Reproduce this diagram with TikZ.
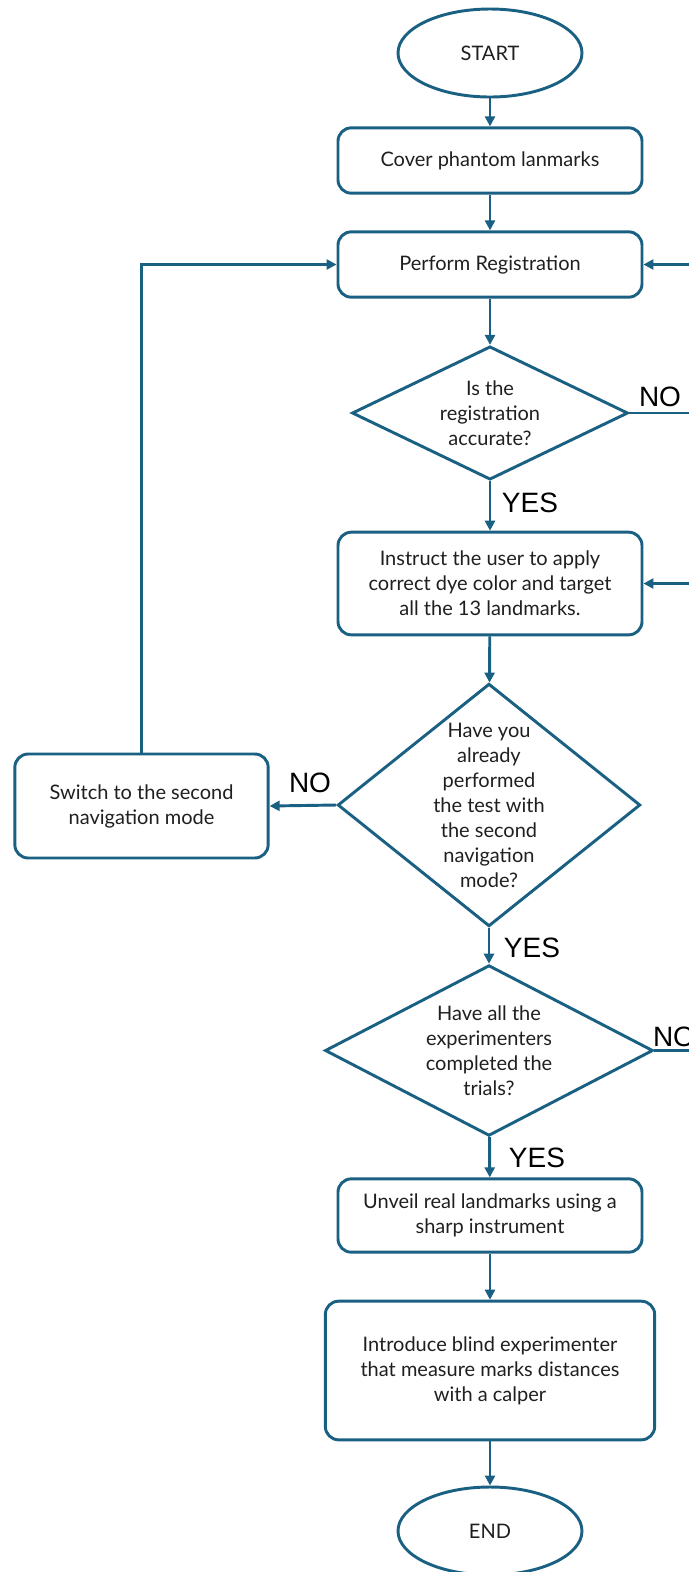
\documentclass[tikz,border=0pt]{standalone}
\usepackage{fontspec}
\setmainfont{Lato}
\newfontfamily\answerfont{Liberation Sans}
\usepackage{tikz}
\usetikzlibrary{shapes,arrows.meta,positioning,calc}
\definecolor{flowblue}{RGB}{26,96,130}

\begin{document}
\begin{tikzpicture}[x=0.75pt,y=-0.75pt,
    every node/.style={font=\fontsize{15}{18.75}\selectfont,align=center,text=black!88},
    process/.style={draw=flowblue,line width=2.2pt,rounded corners=10pt,minimum width=228pt},
    terminal/.style={ellipse,draw=flowblue,line width=2.2pt,minimum width=138pt,minimum height=66pt},
    decision/.style={diamond,draw=flowblue,line width=2.2pt,inner sep=0pt},
    answer/.style={font=\answerfont\fontsize{21}{21}\selectfont,text=black},
    flow/.style={draw=flowblue,line width=2.2pt,-{Triangle[length=7.5pt,width=7.5pt]}},
    link/.style={draw=flowblue,line width=2.2pt}]
    \useasboundingbox (0,0) rectangle (689,1572);

    % Main column
    \node[terminal] (start) at (490,53) {START};
    \node[process,minimum height=49pt] (cover) at (490,160.5) {Cover phantom lanmarks};
    \node[process,minimum height=49pt] (reg) at (490,264.5) {Perform Registration};
    \node[decision,aspect=2.06,minimum width=207pt,minimum height=100pt] (acc) at (490,413)
        {Is the\\registration\\accurate?};
    \node[process,minimum height=77pt] (instr) at (490,583.5)
        {Instruct the user to apply\\correct dye color and target\\all the 13 landmarks.};
    \node[decision,aspect=1.25,minimum width=227pt,minimum height=182pt,inner sep=-5pt] (second) at (489,805)
        {Have you\\already\\performed\\the test with\\the second\\navigation\\mode?};
    \node[decision,aspect=1.92,minimum width=246pt,minimum height=128pt] (trials) at (489,1050.5)
        {Have all the\\experimenters\\completed the\\trials?};
    \node[process,minimum height=55pt] (unveil) at (490,1215.5)
        {Unveil real landmarks using a\\sharp instrument};
    \node[process,minimum width=247pt,minimum height=104pt] (intro) at (490,1370.5)
        {Introduce blind experimenter\\that measure marks distances\\with a calper};
    \node[terminal] (end) at (490,1531) {END};

    % Side branch
    \node[process,minimum width=190pt,minimum height=78pt] (switch) at (141.5,806)
        {Switch to the second\\navigation mode};

    % Answers
    \node[answer] (yes1) at (530,503) {YES};
    \node[answer] (no1) at (660,397) {NO};
    \node[answer] (no2) at (310,783) {NO};
    \node[answer] (yes2) at (532,948) {YES};
    \node[answer] (no3) at (674,1037) {NO};
    \node[answer] (yes3) at (537,1158) {YES};

    % Loose ends at the right border
    \coordinate (regR) at (692,264.5);
    \coordinate (accR) at (692,413);
    \coordinate (instrR) at (692,583.5);
    \coordinate (trialsR) at (692,1050.5);

    % Connectors
    \draw[flow] (start) -- (cover);
    \draw[flow] (cover) -- (reg);
    \draw[flow] (reg) -- (acc);
    \draw[flow] (acc) -- (instr);
    \draw[flow] (instr) -- (second);
    \draw[flow] (second) -- (trials);
    \draw[flow] (trials) -- (unveil);
    \draw[flow] (unveil) -- (intro);
    \draw[flow] (intro) -- (end);
    \draw[flow] (second.west) -- (switch.east);
    \draw[flow] (switch.north) |- (reg.west);
    \draw[flow] (regR) -- (reg.east);
    \draw[flow] (instrR) -- (instr.east);
    \draw[link] (acc.east) -- (accR);
    \draw[link] (trials.east) -- (trialsR);
\end{tikzpicture}
\end{document}
